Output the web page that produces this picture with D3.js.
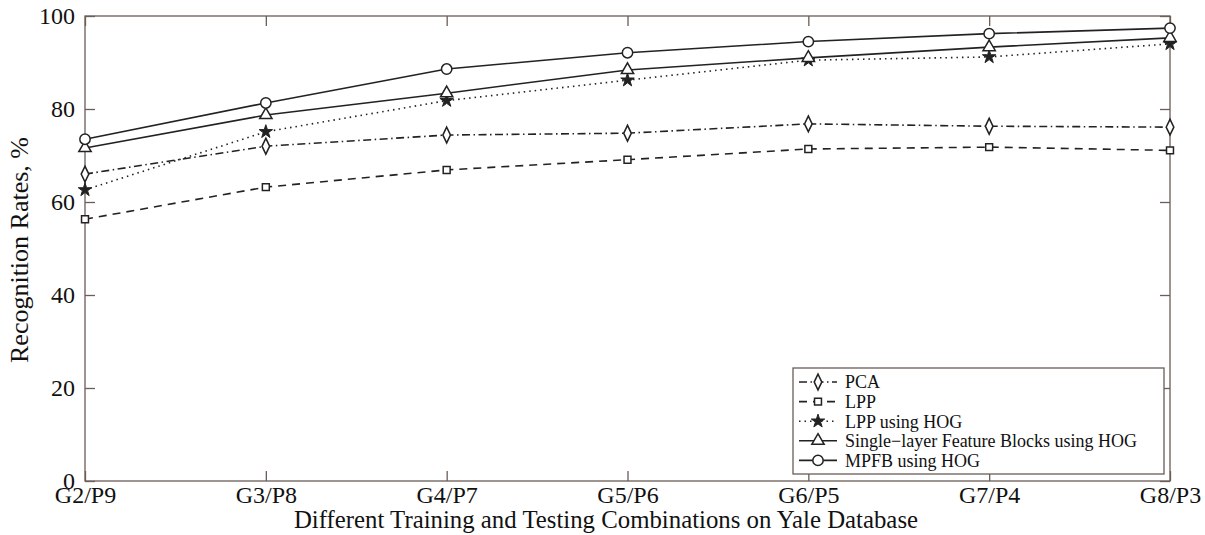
<!DOCTYPE html>
<html>
<head>
<meta charset="utf-8">
<script src="https://cdn.jsdelivr.net/npm/d3@7"></script>
<style>
  body { margin: 0; background: #fff; }
  text { font-family: "Liberation Serif", "Times New Roman", serif; fill: #111; }
</style>
</head>
<body>
<svg id="chart" width="1205" height="535"></svg>
<script>
// categories along the x axis
var categories = ["G2/P9", "G3/P8", "G4/P7", "G5/P6", "G6/P5", "G7/P4", "G8/P3"];
var yTicks = [0, 20, 40, 60, 80, 100];

// recognition rates
var pca     = [66.0, 72.0, 74.4, 74.8, 76.8, 76.3, 76.1];
var lpp     = [56.3, 63.2, 66.9, 69.1, 71.4, 71.8, 71.1];
var lppHog  = [62.6, 75.1, 81.8, 86.2, 90.5, 91.2, 94.0];
var single  = [71.6, 78.7, 83.4, 88.4, 91.0, 93.3, 95.3];
var mpfb    = [73.5, 81.3, 88.6, 92.1, 94.5, 96.2, 97.4];

var seriesNames = ["PCA", "LPP", "LPP using HOG", "Single\u2212layer Feature Blocks using HOG", "MPFB using HOG"];

var width = 1205, height = 535;
var margin = { top: 16, right: 35, bottom: 54, left: 85 };
var axisColor = "#6b5d57";

var svg = d3.select("#chart");

var x = d3.scalePoint().domain(categories).range([margin.left, width - margin.right]);
var y = d3.scaleLinear().domain([0, 100]).range([height - margin.bottom, margin.top]);

var series = [
  { name: seriesNames[0], values: pca,    dash: "8,3.5,1.5,3.5", marker: "diamond" },
  { name: seriesNames[1], values: lpp,    dash: "8,6",           marker: "square" },
  { name: seriesNames[2], values: lppHog, dash: "1.5,4",         marker: "star" },
  { name: seriesNames[3], values: single, dash: null,            marker: "triangle" },
  { name: seriesNames[4], values: mpfb,   dash: null,            marker: "circle" }
];

var symbols = {
  diamond:  d3.symbol().type(d3.symbolDiamond).size(50),
  square:   d3.symbol().type(d3.symbolSquare).size(48),
  star:     d3.symbol().type(d3.symbolStar).size(56),
  triangle: d3.symbol().type(d3.symbolTriangle).size(66),
  circle:   d3.symbol().type(d3.symbolCircle).size(84)
};

function markerTransform(m) {
  return m === "diamond" ? "scale(1,1.2)" : "";
}

// frame
svg.append("rect")
  .attr("x", margin.left).attr("y", margin.top)
  .attr("width", width - margin.right - margin.left)
  .attr("height", height - margin.bottom - margin.top)
  .attr("fill", "none").attr("stroke", axisColor).attr("stroke-width", 1.3);

// axes with inward ticks
var gLeft = svg.append("g").attr("transform", "translate(" + margin.left + ",0)")
  .call(d3.axisLeft(y).tickValues(yTicks).tickSizeInner(-10).tickSizeOuter(0).tickPadding(10));
var gRight = svg.append("g").attr("transform", "translate(" + (width - margin.right) + ",0)")
  .call(d3.axisRight(y).tickValues(yTicks).tickSizeInner(-10).tickSizeOuter(0).tickFormat(""));
var gBottom = svg.append("g").attr("transform", "translate(0," + (height - margin.bottom) + ")")
  .call(d3.axisBottom(x).tickSizeInner(-10).tickSizeOuter(0).tickPadding(5));
var gTop = svg.append("g").attr("transform", "translate(0," + margin.top + ")")
  .call(d3.axisTop(x).tickSizeInner(-10).tickSizeOuter(0).tickFormat(""));

[gLeft, gRight, gBottom, gTop].forEach(function (g) {
  g.select(".domain").remove();
  g.selectAll(".tick line").attr("stroke", axisColor).attr("stroke-width", 1.3);
  g.selectAll("text").style("font-family", "Liberation Serif, serif").style("font-size", "24px").attr("fill", "#111");
});
gLeft.selectAll("text").attr("dy", "0.32em");
gBottom.selectAll("text").attr("dy", "0.71em");

// lines and markers
var line = d3.line()
  .x(function (d, i) { return x(categories[i]); })
  .y(function (d) { return y(d); });

series.forEach(function (s) {
  svg.append("path")
    .datum(s.values)
    .attr("d", line)
    .attr("fill", "none")
    .attr("stroke", "#222")
    .attr("stroke-width", 1.6)
    .attr("stroke-dasharray", s.dash);

  svg.selectAll(".m-" + s.marker)
    .data(s.values)
    .enter().append("path")
    .attr("class", "m-" + s.marker)
    .attr("d", symbols[s.marker])
    .attr("transform", function (d, i) {
      return "translate(" + x(categories[i]) + "," + y(d) + ")" + markerTransform(s.marker);
    })
    .attr("fill", s.marker === "star" ? "#222" : "#fff")
    .attr("stroke", "#222")
    .attr("stroke-width", s.marker === "star" ? 1 : 1.5);
});

// axis titles
svg.append("text")
  .attr("transform", "translate(28,250) rotate(-90)")
  .attr("text-anchor", "middle")
  .style("font-size", "26px")
  .text("Recognition Rates, %");

svg.append("text")
  .attr("x", 606)
  .attr("y", 528)
  .attr("text-anchor", "middle")
  .style("font-size", "24.8px")
  .text("Different Training and Testing Combinations on Yale Database");

// legend
var legend = svg.append("g").attr("transform", "translate(793,368)");
legend.append("rect")
  .attr("width", 371).attr("height", 106)
  .attr("fill", "#fff").attr("stroke", axisColor).attr("stroke-width", 1.3);

series.forEach(function (s, i) {
  var ly = 14 + i * 19.6;
  legend.append("line")
    .attr("x1", 6).attr("x2", 44).attr("y1", ly).attr("y2", ly)
    .attr("stroke", "#222").attr("stroke-width", 1.6)
    .attr("stroke-dasharray", s.dash);
  legend.append("path")
    .attr("d", symbols[s.marker])
    .attr("transform", "translate(25," + ly + ")" + markerTransform(s.marker))
    .attr("fill", s.marker === "star" ? "#222" : "#fff")
    .attr("stroke", "#222")
    .attr("stroke-width", s.marker === "star" ? 1 : 1.5);
  legend.append("text")
    .attr("x", 52).attr("y", ly)
    .attr("dy", "0.35em")
    .style("font-size", "18px")
    .text(s.name);
});
</script>
</body>
</html>
